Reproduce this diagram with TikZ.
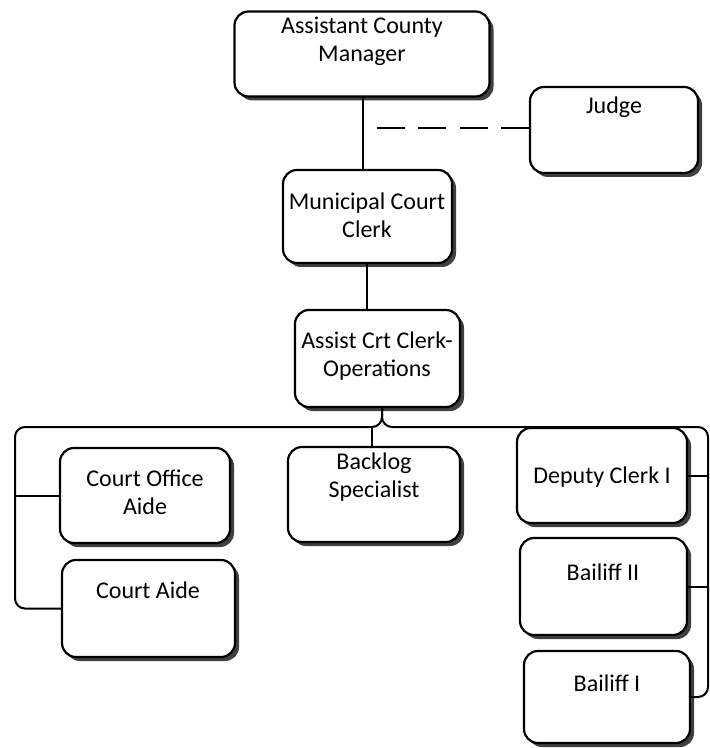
\documentclass[tikz,border=0pt]{standalone}
\usepackage{fontspec}
\setmainfont{Carlito}
\usetikzlibrary{shadows}
\tikzset{
  box/.style={draw=black, line width=1.1pt, rounded corners=7pt, fill=white, inner sep=0pt,
    drop shadow={shadow xshift=2pt, shadow yshift=-2pt, fill=black!75, opacity=1}},
  txt/.style={align=center, inner sep=0pt, font=\fontsize{12}{14}\selectfont},
  conn/.style={draw=black, line width=1pt},
}
\begin{document}
\begin{tikzpicture}[x=0.5pt, y=-0.5pt]
\useasboundingbox[fill=white] (0,0) rectangle (710,748);
% boxes
\node[box, minimum width=127.5pt, minimum height=42.5pt] (acm) at (362,54) {};
\node[box, minimum width=84pt, minimum height=43pt] (judge) at (614,130) {};
\node[box, minimum width=84.5pt, minimum height=46.5pt] (mcc) at (367.5,216.5) {};
\node[box, minimum width=82.5pt, minimum height=48.5pt] (acco) at (377.5,358.5) {};
\node[box, minimum width=85pt, minimum height=47.5pt] (coa) at (145,495.5) {};
\node[box, minimum width=86.5pt, minimum height=48.5pt] (ca) at (148.5,608.5) {};
\node[box, minimum width=86pt, minimum height=47.5pt] (bs) at (374,494.5) {};
\node[box, minimum width=85pt, minimum height=47.5pt] (dc) at (602,475.5) {};
\node[box, minimum width=83.5pt, minimum height=48.5pt] (bb) at (603.5,586.5) {};
\node[box, minimum width=83pt, minimum height=46pt] (ba) at (607,697) {};
% texts
\node[txt] (acmt) at (362,41) {Assistant County\\Manager};
\node[txt] (judget) at (614,107) {Judge};
\node[txt] (mcct) at (367,215) {Municipal Court\\Clerk};
\node[txt] (accot) at (377,356.5) {Assist Crt Clerk-\\Operations};
\node[txt] (coat) at (145,492) {Court Office\\Aide};
\node[txt] (cat) at (148,590) {Court Aide};
\node[txt] (bst) at (374,477.5) {Backlog\\Specialist};
\node[txt] (dct) at (602,477) {Deputy Clerk I};
\node[txt] (bbt) at (603,572) {Bailiff II};
\node[txt] (bat) at (607,683) {Bailiff I};
% coordinates
\coordinate (dashstart) at (363,128);
\coordinate (jn) at (382,427);
\coordinate (lc) at (15,427);
\coordinate (rc) at (708,427);
% connectors
\draw[conn] (acm.south -| dashstart) -- (mcc.north -| dashstart);
\draw[conn, dash pattern=on 14pt off 6.75pt, dash phase=14pt] (dashstart) -- (dashstart -| judge.west);
\draw[conn] (367,0 |- mcc.south) -- (367,0 |- acco.north);
\draw[conn, rounded corners=5pt] (jn |- acco.south) -- (jn) -- (lc) -- (lc |- ca.west) -- (ca.west);
\draw[conn, rounded corners=5pt] (jn |- acco.south) -- (jn) -- (rc) -- (rc |- ba.east) -- (ba.east);
\draw[conn] (lc |- coa.west) -- (coa.west);
\draw[conn] (372,0 |- jn) -- (372,0 |- bs.north);
\draw[conn] (dc.east) -- (dc.east -| rc);
\draw[conn] (bb.east) -- (bb.east -| rc);
\end{tikzpicture}
\end{document}
